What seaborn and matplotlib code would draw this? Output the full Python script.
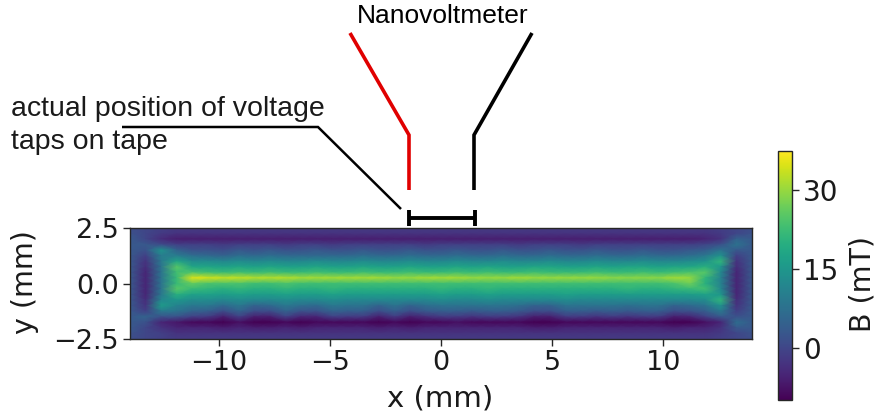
import numpy as np
import pandas as pd
import matplotlib
matplotlib.use("Agg")
import matplotlib.pyplot as plt
from matplotlib.lines import Line2D
import seaborn as sns

# Field, one list per x position (0.7 mm apart),
# values in mT from y = +2.5 (first) to y = -2.5 (last), 0.25 mm apart
x_mm = [round(-14 + 0.7 * i, 1) for i in range(41)]
y_mm = [round(2.5 - 0.25 * i, 2) for i in range(21)]
b_columns = [
    [1, 2, 3, 3, 3, 3, 3, 3, 3, 3, 3, 3, 3, 3, 3, 3, 3, 3, 3, 2, 1],
    [0, 0, 0, 3, 2, -1, -3, -4, -5, -5, -5, -5, -5, -4, -3, -1, 5, 2, 0, 0, 0],
    [-1, -2, -4, 1, 14, 10, 9, 8, 8, 8, 8, 8, 9, 12, 16, 9, 2, -5, -3, -1, -1],
    [-2, -3, -6, -1, 5, 10, 18, 25, 23, 22, 22, 25, 20, 15, 11, 8, 2, -7, -5, -3, -2],
    [-2, -3, -6, -1, 2, 7, 13, 18, 24, 35, 26, 22, 17, 13, 9, 5, -1, -9, -5, -3, -2],
    [-2, -3, -6, -1, 2, 6, 13, 18, 23, 34, 24, 21, 17, 13, 9, 4, -2, -9, -5, -3, -2],
    [-2, -3, -6, -2, 1, 5, 12, 17, 22, 33, 24, 20, 16, 12, 6, 1, -6, -10, -6, -3, -2],
    [-2, -3, -6, -1, 3, 7, 13, 18, 23, 33, 24, 21, 17, 13, 9, 5, -1, -8, -5, -3, -2],
    [-2, -3, -6, -1, 2, 6, 12, 17, 22, 32, 23, 20, 16, 12, 5, 1, -6, -10, -6, -3, -2],
    [-2, -3, -6, -1, 3, 7, 13, 18, 23, 32, 23, 20, 16, 12, 6, 1, -6, -10, -6, -3, -2],
    [-2, -3, -6, -2, 2, 6, 12, 17, 22, 32, 24, 21, 17, 13, 9, 5, -1, -9, -5, -3, -2],
    [-2, -3, -6, -1, 2, 6, 12, 17, 22, 31, 23, 20, 16, 12, 7, 2, -5, -10, -6, -3, -2],
    [-2, -3, -6, -1, 3, 6, 13, 18, 23, 31, 23, 20, 16, 12, 6, 2, -5, -9, -5, -3, -2],
    [-2, -3, -6, -2, 2, 6, 12, 17, 22, 31, 23, 21, 17, 13, 9, 5, -1, -9, -5, -3, -2],
    [-2, -3, -6, -1, 2, 6, 12, 17, 22, 31, 23, 20, 16, 12, 8, 4, -2, -9, -5, -3, -2],
    [-2, -3, -6, -1, 3, 7, 13, 18, 23, 31, 23, 20, 16, 12, 8, 4, -2, -9, -5, -3, -2],
    [-2, -3, -6, -1, 2, 6, 12, 17, 22, 31, 23, 20, 16, 12, 5, 1, -6, -10, -6, -3, -2],
    [-2, -3, -6, -1, 2, 6, 12, 17, 22, 30, 23, 20, 16, 12, 8, 4, -2, -9, -5, -3, -2],
    [-2, -3, -6, -1, 3, 7, 13, 18, 23, 30, 23, 20, 16, 12, 5, 1, -6, -10, -6, -3, -2],
    [-2, -3, -6, -2, 2, 6, 12, 17, 22, 31, 23, 20, 16, 12, 7, 3, -4, -9, -5, -3, -2],
    [-2, -3, -6, -1, 2, 6, 12, 17, 22, 31, 23, 21, 17, 13, 8, 4, -2, -9, -5, -3, -2],
    [-2, -3, -6, -1, 3, 7, 13, 18, 23, 31, 23, 20, 16, 12, 8, 4, -2, -8, -5, -3, -2],
    [-2, -3, -6, -1, 2, 6, 12, 17, 22, 30, 23, 20, 16, 12, 8, 3, -3, -9, -5, -3, -2],
    [-2, -3, -6, -1, 2, 6, 12, 18, 23, 30, 23, 21, 17, 13, 8, 4, -2, -9, -5, -3, -2],
    [-2, -3, -6, -1, 3, 7, 13, 17, 22, 30, 23, 20, 16, 12, 8, 4, -2, -9, -5, -3, -2],
    [-2, -3, -6, -2, 2, 6, 12, 17, 22, 31, 23, 20, 16, 12, 7, 3, -3, -9, -5, -3, -2],
    [-2, -3, -6, -1, 2, 6, 12, 18, 23, 30, 23, 20, 16, 12, 5, 1, -6, -10, -6, -3, -2],
    [-2, -3, -6, -1, 3, 7, 13, 18, 22, 30, 23, 20, 16, 12, 5, 1, -6, -10, -6, -3, -2],
    [-2, -3, -6, -1, 2, 6, 12, 17, 22, 30, 23, 20, 17, 13, 8, 4, -2, -9, -5, -3, -2],
    [-2, -3, -6, -2, 2, 6, 12, 17, 22, 30, 23, 20, 16, 12, 8, 4, -2, -9, -5, -3, -2],
    [-2, -3, -6, -1, 3, 7, 13, 18, 23, 30, 23, 20, 16, 12, 8, 3, -3, -9, -5, -3, -2],
    [-2, -3, -6, -1, 2, 6, 12, 17, 22, 29, 23, 20, 16, 12, 8, 4, -2, -9, -5, -3, -2],
    [-2, -3, -6, -1, 2, 6, 12, 18, 22, 29, 23, 21, 16, 12, 7, 3, -3, -9, -5, -3, -2],
    [-2, -3, -6, -1, 3, 7, 13, 18, 23, 29, 23, 20, 16, 12, 8, 4, -2, -9, -5, -3, -2],
    [-2, -3, -6, -1, 2, 6, 12, 17, 22, 29, 23, 20, 16, 12, 8, 4, -2, -9, -5, -3, -2],
    [-2, -3, -6, -1, 2, 6, 12, 18, 23, 31, 24, 21, 16, 12, 5, 1, -6, -10, -6, -3, -2],
    [-2, -3, -6, -1, 3, 7, 13, 18, 24, 30, 27, 22, 16, 12, 6, 2, -5, -10, -5, -3, -2],
    [-2, -3, -5, 0, 4, 9, 14, 20, 25, 21, 20, 23, 17, 13, 8, 4, -1, -8, -5, -3, -2],
    [-1, -2, -3, 2, 8, 14, 21, 15, 12, 11, 11, 12, 15, 21, 14, 9, 3, -5, -3, -2, -1],
    [0, 0, 5, 8, 3, -1, -3, -4, -5, -5, -5, -5, -5, -4, -3, -1, 2, 7, 3, 0, 0],
    [1, 2, 3, 3, 3, 3, 3, 3, 3, 3, 3, 3, 3, 3, 3, 3, 3, 3, 3, 2, 1],
]
x_ticks = [-10, -5, 0, 5, 10]
x_tick_labels = ["\u221210", "\u22125", "0", "5", "10"]
y_ticks = [2.5, 0.0, -2.5]
y_tick_labels = ["2.5", "0.0", "\u22122.5"]
cbar_ticks = [0, 15, 30]

WIDTH, HEIGHT = 875, 418


def px_box(left, top, right, bottom):
    return [left / WIDTH, 1 - bottom / HEIGHT, (right - left) / WIDTH, (bottom - top) / HEIGHT]


def px_line(fig, xs, ys, color, lw):
    fig.add_artist(Line2D([v / WIDTH for v in xs], [1 - v / HEIGHT for v in ys],
                          color=color, lw=lw, solid_capstyle="butt", solid_joinstyle="miter"))


sns.set_theme(style="white")
plt.rcParams["font.family"] = ["DejaVu Sans"]

df = pd.DataFrame(np.array(b_columns).T, index=y_mm, columns=x_mm)

fig = plt.figure(figsize=(WIDTH / 100, HEIGHT / 100), dpi=100)
ax = fig.add_axes(px_box(130, 228, 752, 339))
cax = fig.add_axes(px_box(778, 151, 792, 400))

sns.heatmap(df, ax=ax, cbar_ax=cax, cmap="viridis", vmin=-10, vmax=37.5,
            shading="gouraud", xticklabels=False, yticklabels=False,
            cbar_kws={"ticks": cbar_ticks})

# gouraud nodes sit on the indices, so the limits run 0..n-1
ax.set_xlim(0, len(x_mm) - 1)
ax.set_ylim(len(y_mm) - 1, 0)
ax.set_xticks(np.interp(x_ticks, x_mm, np.arange(len(x_mm))))
ax.set_xticklabels(x_tick_labels)
ax.set_yticks(np.interp(y_ticks, y_mm[::-1], np.arange(len(y_mm))[::-1]))
ax.set_yticklabels(y_tick_labels)
ax.tick_params(labelsize=19.5, length=5, width=1, color="#262626", labelcolor="#1a1a1a",
               bottom=True, left=True, pad=3)
ax.set_xlabel("x (mm)", fontsize=21, color="#1a1a1a")
ax.xaxis.set_label_coords(0.4985, -0.41)
ax.set_ylabel("y (mm)", fontsize=20.5, color="#1a1a1a")
ax.yaxis.set_label_coords(-0.147, 0.51)
for spine in ax.spines.values():
    spine.set_visible(True)
    spine.set_color("#262626")
    spine.set_linewidth(1)

cbar = ax.collections[0].colorbar
cbar.outline.set_visible(True)
cbar.outline.set_edgecolor("#262626")
cbar.outline.set_linewidth(1)
cax.tick_params(labelsize=20, length=5, width=1, color="#262626", labelcolor="#1a1a1a", right=True, pad=3)
cbar.set_label("B (mT)", fontsize=20.5, color="#1a1a1a")
cax.yaxis.set_label_coords(5.0, 0.466)

# overlay sketch, placed in figure pixels
fig.text(357 / WIDTH, 1 - 23 / HEIGHT, "Nanovoltmeter", fontsize=19, family="Liberation Sans",
         color="black", va="baseline")
fig.text(11 / WIDTH, 1 - 116 / HEIGHT, "actual position of voltage", fontsize=20.5,
         family="Liberation Sans", color="#1a1a1a", va="baseline")
fig.text(11 / WIDTH, 1 - 149 / HEIGHT, "taps on tape", fontsize=20.5,
         family="Liberation Sans", color="#1a1a1a", va="baseline")
px_line(fig, [350, 409, 409], [33, 135, 190], "#e00000", 2.6)
px_line(fig, [532, 474, 474], [33, 135, 190], "black", 2.6)
px_line(fig, [122, 318, 401], [127, 127, 209], "black", 1.8)
px_line(fig, [409, 475], [218, 218], "black", 2.8)
px_line(fig, [409, 409], [210, 226], "black", 2.8)
px_line(fig, [475, 475], [210, 226], "black", 2.8)

fig.savefig("out.png", dpi=100)
